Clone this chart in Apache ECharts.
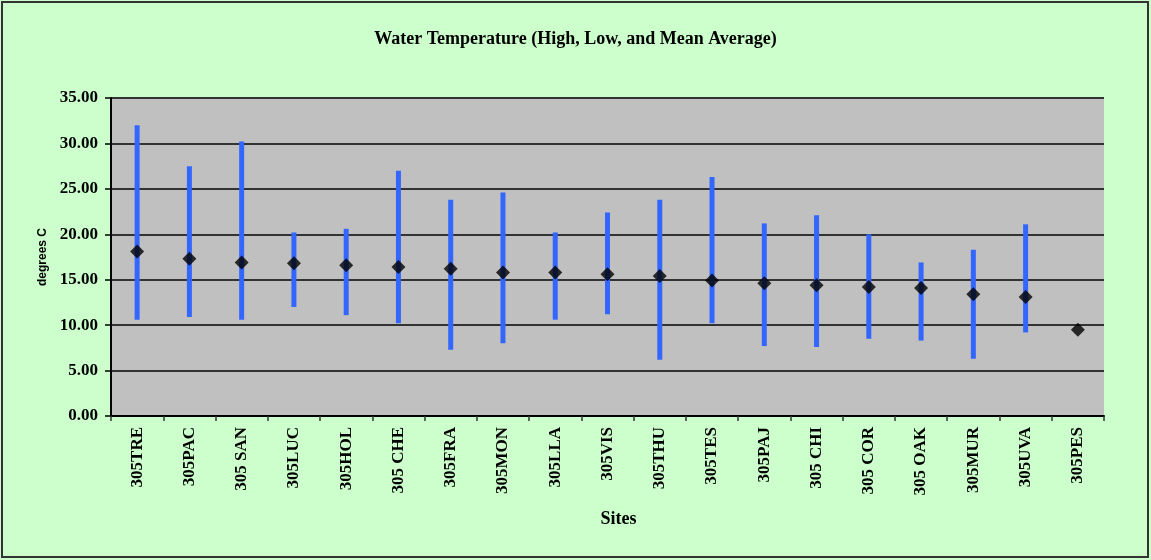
<!DOCTYPE html>
<html><head><meta charset="utf-8">
<script src="https://cdn.jsdelivr.net/npm/echarts@6/dist/echarts.min.js"></script>
<style>html,body{margin:0;padding:0;background:#fff}#c{width:1151px;height:560px}</style>
</head><body><div id="c"></div>
<script>
const sites = ['305TRE','305PAC','305 SAN','305LUC','305HOL','305 CHE','305FRA','305MON','305LLA','305VIS','305THU','305TES','305PAJ','305 CHI','305 COR','305 OAK','305MUR','305UVA','305PES'];
const highs = [32.0,27.5,30.2,20.2,20.6,27.0,23.8,24.6,20.2,22.4,23.8,26.3,21.2,22.1,20.0,16.9,18.3,21.1,null];
const lows  = [10.6,10.9,10.6,12.0,11.1,10.2,7.3,8.0,10.6,11.2,6.2,10.2,7.7,7.6,8.5,8.3,6.3,9.2,null];
const means = [18.1,17.3,16.9,16.8,16.6,16.4,16.2,15.8,15.8,15.6,15.4,14.9,14.6,14.4,14.2,14.1,13.4,13.1,9.5];
const yTicks = [0,5,10,15,20,25,30,35];

const serif = '"Liberation Serif", "DejaVu Serif", serif';
const rangeData = sites.map((s,i)=>[i, lows[i], highs[i]]).filter(d=>d[1]!=null && d[2]!=null);

const chart = echarts.init(document.getElementById('c'), null, {renderer:'canvas'});
chart.setOption({
  backgroundColor:'#CCFFCC',
  animation:false,
  title:{
    text:'Water Temperature (High, Low, and Mean Average)',
    left:'center', top:25,
    textStyle:{fontFamily:serif, fontSize:18, fontWeight:'bold', color:'#000'}
  },
  graphic:[{type:'rect', shape:{x:2,y:2,width:1146,height:555}, style:{fill:'none', stroke:'#333', lineWidth:2}, silent:true}],
  grid:{left:111, right:47, top:98, bottom:144, show:true, backgroundColor:'#C0C0C0', borderWidth:0},
  xAxis:{
    type:'category', data:sites,
    name:'Sites', nameLocation:'middle', nameGap:94,
    nameTextStyle:{fontFamily:serif, fontSize:18, fontWeight:'bold', color:'#000', padding:[0,0,0,22]},
    axisLine:{lineStyle:{color:'#000', width:2}},
    axisTick:{show:true, alignWithLabel:false, length:5, lineStyle:{color:'#333', width:1.5}},
    axisLabel:{rotate:90, margin:11, fontFamily:serif, fontSize:17, fontWeight:'bold', color:'#000'},
    splitLine:{show:false}
  },
  yAxis:{
    type:'value', min:0, max:35, interval:5,
    name:'degrees C', nameLocation:'middle', nameGap:62, nameRotate:90,
    nameTextStyle:{fontFamily:'"Liberation Sans", "DejaVu Sans", sans-serif', fontSize:12, fontWeight:'bold', color:'#000'},
    axisLine:{show:true, lineStyle:{color:'#000', width:2}},
    axisTick:{show:true, length:6, lineStyle:{color:'#000', width:1.5}},
    axisLabel:{fontFamily:serif, fontSize:17, fontWeight:'bold', color:'#000', margin:13,
      formatter:v=>yTicks.includes(v)?v.toFixed(2):''},
    splitLine:{lineStyle:{color:'#333', width:2}}
  },
  series:[
    {
      type:'custom', name:'Range',
      renderItem:(params, api)=>{
        const x = api.value(0);
        const p1 = api.coord([x, api.value(1)]);
        const p2 = api.coord([x, api.value(2)]);
        return {type:'line', shape:{x1:p1[0],y1:p1[1],x2:p2[0],y2:p2[1]},
          style:{stroke:'#3366FF', lineWidth:5}};
      },
      encode:{x:0, y:[1,2]},
      data:rangeData, z:2
    },
    {
      type:'scatter', name:'Mean', data:means,
      symbol:'diamond', symbolSize:14,
      itemStyle:{color:'#000'}, z:3
    }
  ]
});
</script></body></html>
